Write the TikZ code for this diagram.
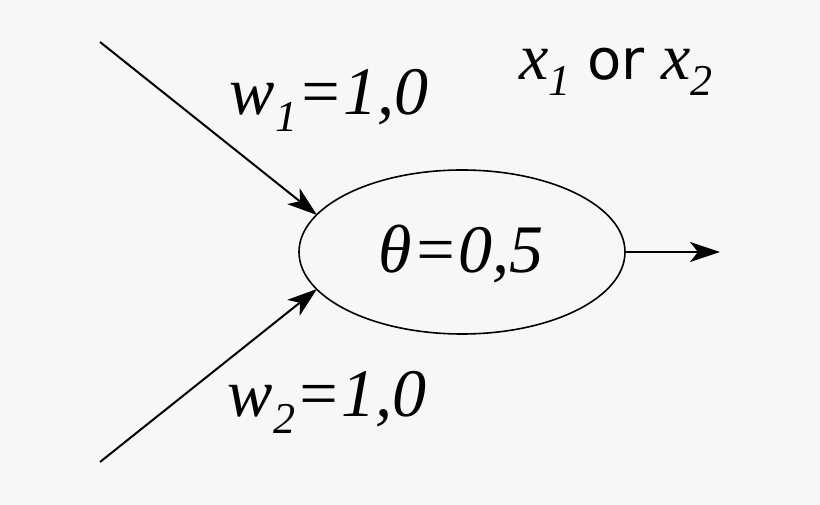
\documentclass[tikz,border=0pt]{standalone}
\usepackage{fontspec}
\setmainfont{Liberation Serif}
\newfontfamily\sansf{DejaVu Sans}
\usetikzlibrary{arrows.meta,shapes.geometric}
\newcommand{\mysub}[1]{\raisebox{-0.25em}{\fontsize{44}{48}\selectfont #1}}
\begin{document}
\begin{tikzpicture}[x=1pt,y=-1pt,
  lbl/.style={font=\fontsize{68}{74}\selectfont\itshape, inner sep=0},
  arr/.style={line width=2pt,-{Stealth[length=30pt,width=20pt,inset=8pt]}}]
\fill[gray!6] (0,0) rectangle (820,505);
\useasboundingbox (0,0) rectangle (820,505);
\node[draw,line width=1.6pt,ellipse,minimum width=326pt,minimum height=164pt,inner sep=0] (n) at (462,252) {};
\node[lbl] (t) at (461,254) {θ=0,5};
\coordinate (a1) at (100,42);
\coordinate (a2) at (100,462);
\coordinate (o) at (720,252);
\draw[arr] (a1) -- (317,215);
\draw[arr] (a2) -- (317,289);
\draw[arr] (n.east) -- (o);
\node[lbl] (w1) at (329,100) {w\mysub{1}=1,0};
\node[lbl] (w2) at (327,402) {w\mysub{2}=1,0};
\node[inner sep=0] (x) at (616,72) {\fontsize{66}{72}\selectfont\itshape x\mysub{1} {\upshape\sansf\fontsize{56}{60}\selectfont or} x\mysub{2}};
\end{tikzpicture}
\end{document}
